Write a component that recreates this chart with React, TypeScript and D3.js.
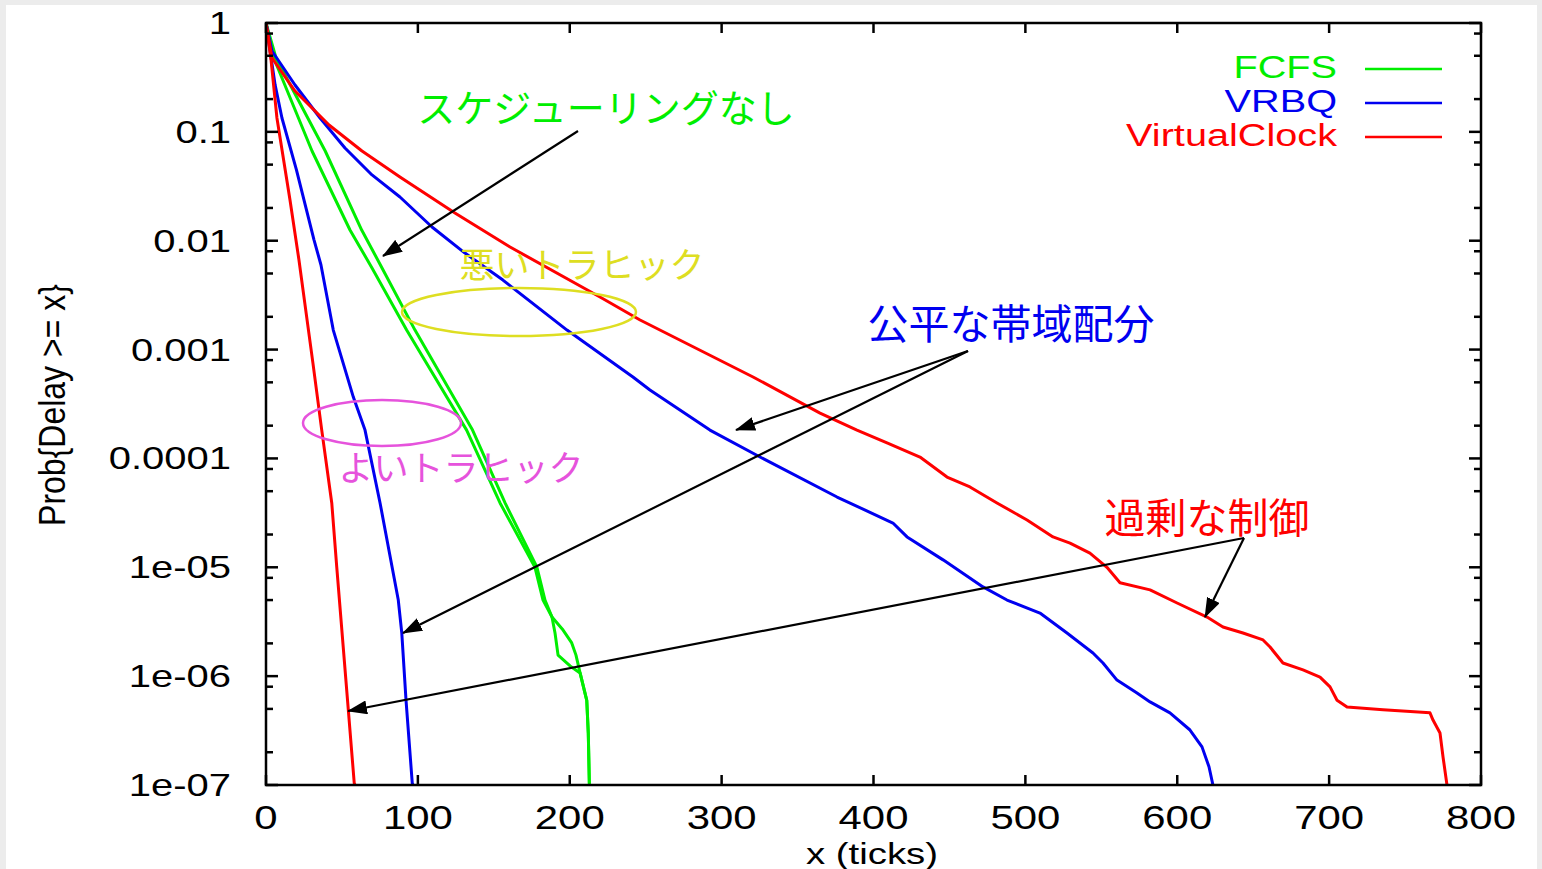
import React from "react";
import * as d3 from "d3";

// Delay distribution tails: [ticks, Prob{Delay >= x}]
const fcfsBad: [number, number][] = [
  [0, 1], [5.1, 0.477], [30.3, 0.0667], [55.3, 0.01254], [69.8, 0.00562], [92.6, 0.00151],
  [132.1, 1.82e-4], [154.1, 3.9e-5], [177.1, 1.0e-5], [182.4, 5.0e-6], [188.3, 3.49e-6],
  [190.3, 2.49e-6], [192.3, 1.56e-6], [200.2, 1.24e-6], [206.8, 1.07e-6], [211.2, 6.0e-7],
  [212.2, 3.0e-7], [212.9, 1.04e-7], [213.0, 1e-7],
];
const fcfsGood: [number, number][] = [
  [0, 1], [6.6, 0.477], [39.0, 0.0667], [63.0, 0.01254], [76.4, 0.00562], [98.1, 0.00151],
  [136.0, 1.82e-4], [157.4, 3.9e-5], [178.4, 1.0e-5], [183.7, 5.0e-6], [188.3, 3.49e-6],
  [195.6, 2.65e-6], [201.3, 2.02e-6], [204.1, 1.56e-6], [206.8, 1.07e-6], [211.2, 6.0e-7],
  [212.2, 3.0e-7], [212.9, 1.04e-7], [213.0, 1e-7],
];
const vrbqBad: [number, number][] = [
  [0, 1], [3.95, 0.553], [19.1, 0.2695], [35.6, 0.134], [52.0, 0.0711], [69.8, 0.0402],
  [88.2, 0.0252], [109.3, 0.01337], [131.0, 0.0077], [156.0, 0.00435], [198.2, 0.00151],
  [241.6, 5.6e-4], [252.8, 4.25e-4], [292.3, 1.82e-4], [325.3, 1.03e-4], [376.0, 4.42e-5],
  [412.8, 2.55e-5], [422.1, 1.9e-5], [445.8, 1.17e-5], [472.1, 6.6e-6], [487.9, 5.0e-6],
  [509.6, 3.8e-6], [527.4, 2.49e-6], [544.5, 1.63e-6], [551.1, 1.32e-6], [560.3, 9.2e-7],
  [573.5, 7.0e-7], [582.1, 5.8e-7], [595.2, 4.6e-7], [608.4, 3.2e-7], [616.3, 2.24e-7],
  [620.9, 1.47e-7], [623.5, 1e-7],
];
const vrbqGood: [number, number][] = [
  [0, 1], [2.6, 0.565], [6.0, 0.27], [10.5, 0.134], [20.0, 0.045], [31.6, 0.0102],
  [36.2, 0.00598], [44.3, 0.00151], [57.5, 3.66e-4], [65.2, 1.82e-4], [75.1, 3.9e-5],
  [87.1, 5.0e-6], [89.4, 2.5e-6], [92.2, 6.0e-7], [96.3, 1.04e-7], [96.8, 1e-7],
];
const vcBad: [number, number][] = [
  [0, 1], [3.95, 0.477], [19.1, 0.237], [41.5, 0.1156], [63.2, 0.0667], [88.2, 0.0385],
  [124.4, 0.018], [160.7, 0.00875], [219.9, 0.00304], [246.3, 0.00187], [320.7, 5.6e-4],
  [364.8, 2.61e-4], [389.1, 1.82e-4], [408.9, 1.39e-4], [430.6, 1.03e-4], [448.4, 6.75e-5],
  [463.5, 5.47e-5], [481.3, 3.9e-5], [501.1, 2.72e-5], [518.2, 1.9e-5], [529.4, 1.67e-5],
  [542.5, 1.35e-5], [553.7, 1.0e-5], [562.3, 7.2e-6], [582.1, 6.2e-6], [599.9, 4.7e-6],
  [619.6, 3.49e-6], [630.1, 2.83e-6], [643.3, 2.49e-6], [656.5, 2.15e-6], [661.1, 1.85e-6],
  [669.6, 1.32e-6], [682.8, 1.14e-6], [694.0, 9.8e-7], [700.6, 7.96e-7], [705.2, 6.0e-7],
  [711.8, 5.2e-7], [735.5, 4.9e-7], [766.4, 4.6e-7], [768.4, 3.95e-7], [773.0, 3.0e-7],
  [775.0, 1.81e-7], [777.6, 1e-7],
];
const vcGood: [number, number][] = [
  [0, 1], [3.3, 0.46], [7.2, 0.134], [15.8, 0.0237], [21.7, 0.00665], [30.9, 7.5e-4],
  [36.7, 1.82e-4], [43.3, 3.9e-5], [46.6, 1.0e-5], [54.2, 4.9e-7], [58.1, 1.04e-7], [58.6, 1e-7],
];

const xTicks = [0, 100, 200, 300, 400, 500, 600, 700, 800];
const yTicks = [1, 0.1, 0.01, 0.001, 0.0001, 1e-5, 1e-6, 1e-7];
const yTickLabels = ["1", "0.1", "0.01", "0.001", "0.0001", "1e-05", "1e-06", "1e-07"];
const minorFactors = [0.8, 0.5, 0.2];

const GREEN = "#00ee00";
const BLUE = "#0000f0";
const RED = "#ff0000";
const YELLOW = "#dede22";
const MAGENTA = "#e653dc";

const series = [
  { name: "FCFS", color: GREEN, curves: [fcfsBad, fcfsGood] },
  { name: "VRBQ", color: BLUE, curves: [vrbqBad, vrbqGood] },
  { name: "VirtualClock", color: RED, curves: [vcBad, vcGood] },
];

const LEFT = 266, RIGHT = 1481, TOP = 23, BOTTOM = 785;
const LATIN = "'Liberation Sans', Arial, sans-serif";
const CJK = "'Noto Sans CJK JP', 'Noto Sans', sans-serif";

export default function App() {
  const x = d3.scaleLinear().domain([0, 800]).range([LEFT, RIGHT]);
  const y = d3.scaleLog().domain([1e-7, 1]).range([BOTTOM, TOP]);
  const line = d3
    .line<[number, number]>()
    .x((d) => x(d[0]))
    .y((d) => y(d[1]));

  const minorTicks: number[] = [];
  for (let k = 0; k > -7; k--) {
    minorFactors.forEach((f) => minorTicks.push(Math.pow(10, k) * f));
  }

  const arrows = [
    { from: [578, 131], to: [383, 256] },
    { from: [968, 351], to: [736, 430] },
    { from: [968, 351], to: [403, 633] },
    { from: [1244, 538], to: [348, 711] },
    { from: [1244, 538], to: [1205, 617] },
  ];

  const annotations = [
    { text: "スケジューリングなし", x: 606, y: 105, size: 38, color: GREEN },
    { text: "悪いトラヒック", x: 582, y: 262, size: 35, color: YELLOW },
    { text: "公平な帯域配分", x: 1011, y: 321, size: 41, color: BLUE },
    { text: "よいトラヒック", x: 461, y: 465, size: 35, color: MAGENTA },
    { text: "過剰な制御", x: 1207, y: 515, size: 41, color: RED },
  ];

  return (
    <svg
      width={1542}
      height={869}
      style={{ position: "absolute", left: 0, top: 0, background: "#ffffff" }}
    >
      <defs>
        <clipPath id="plot-area">
          <rect x={LEFT} y={TOP} width={RIGHT - LEFT} height={BOTTOM - TOP} />
        </clipPath>
        <marker
          id="arrow-head"
          markerUnits="userSpaceOnUse"
          markerWidth={20}
          markerHeight={14}
          refX={19}
          refY={7}
          orient="auto"
        >
          <path d="M0,0 L20,7 L0,14 z" fill="#000" />
        </marker>
      </defs>

      {/* page edges */}
      <rect x={0} y={0} width={1542} height={5} fill="#ececec" />
      <rect x={0} y={0} width={6} height={869} fill="#ececec" />
      <rect x={1537} y={0} width={5} height={869} fill="#ececec" />

      {/* curves */}
      <g clipPath="url(#plot-area)" fill="none" strokeWidth={3} strokeLinejoin="round">
        {series.map((s) =>
          s.curves.map((c, i) => (
            <path key={s.name + i} d={line(c) || ""} stroke={s.color} />
          ))
        )}
      </g>

      {/* frame and ticks */}
      <rect
        x={LEFT}
        y={TOP}
        width={RIGHT - LEFT}
        height={BOTTOM - TOP}
        fill="none"
        stroke="#000"
        strokeWidth={2.5}
      />
      <g stroke="#000" strokeWidth={2.5}>
        {xTicks.map((t) => (
          <g key={"xt" + t}>
            <line x1={x(t)} x2={x(t)} y1={BOTTOM} y2={BOTTOM - 10} />
            <line x1={x(t)} x2={x(t)} y1={TOP} y2={TOP + 10} />
          </g>
        ))}
        {yTicks.map((v) => (
          <g key={"yt" + v}>
            <line x1={LEFT} x2={LEFT + 12} y1={y(v)} y2={y(v)} />
            <line x1={RIGHT} x2={RIGHT - 12} y1={y(v)} y2={y(v)} />
          </g>
        ))}
        {minorTicks.map((v) => (
          <g key={"ym" + v}>
            <line x1={LEFT} x2={LEFT + 7} y1={y(v)} y2={y(v)} />
            <line x1={RIGHT} x2={RIGHT - 7} y1={y(v)} y2={y(v)} />
          </g>
        ))}
      </g>

      {/* tick labels */}
      <g fontFamily={LATIN} fill="#000">
        {yTicks.map((v, i) => (
          <text
            key={"yl" + v}
            transform={`translate(231,${y(v)}) scale(1.25,1)`}
            textAnchor="end"
            dominantBaseline="central"
            fontSize={32}
          >
            {yTickLabels[i]}
          </text>
        ))}
        {xTicks.map((t) => (
          <text
            key={"xl" + t}
            transform={`translate(${x(t)},829) scale(1.27,1)`}
            textAnchor="middle"
            fontSize={33}
          >
            {t}
          </text>
        ))}
        <text
          transform="translate(872,864) scale(1.28,1)"
          textAnchor="middle"
          fontSize={30}
        >
          x (ticks)
        </text>
        <text
          transform="translate(52,405) scale(1.15,1) rotate(-90)"
          textAnchor="middle"
          dominantBaseline="central"
          fontSize={32}
        >
          {"Prob{Delay >= x}"}
        </text>
      </g>

      {/* legend */}
      <g fontFamily={LATIN}>
        {series.map((s, i) => (
          <g key={"lg" + s.name}>
            <text
              transform={`translate(1337,${68 + i * 34}) scale(1.28,1)`}
              textAnchor="end"
              dominantBaseline="central"
              fontSize={31}
              fill={s.color}
            >
              {s.name}
            </text>
            <line
              x1={1365}
              x2={1442}
              y1={69 + i * 34}
              y2={69 + i * 34}
              stroke={s.color}
              strokeWidth={2.5}
            />
          </g>
        ))}
      </g>

      {/* highlighted regions */}
      <ellipse cx={519} cy={312} rx={117} ry={24} fill="none" stroke={YELLOW} strokeWidth={2.5} />
      <ellipse cx={382} cy={423} rx={79} ry={23} fill="none" stroke={MAGENTA} strokeWidth={2.5} />

      {/* arrows */}
      <g stroke="#000" strokeWidth={2.2}>
        {arrows.map((a, i) => (
          <line
            key={"ar" + i}
            x1={a.from[0]}
            y1={a.from[1]}
            x2={a.to[0]}
            y2={a.to[1]}
            markerEnd="url(#arrow-head)"
          />
        ))}
      </g>

      {/* annotations */}
      <g fontFamily={CJK}>
        {annotations.map((a) => (
          <text
            key={a.text}
            x={a.x}
            y={a.y}
            textAnchor="middle"
            dominantBaseline="central"
            fontSize={a.size}
            fill={a.color}
          >
            {a.text}
          </text>
        ))}
      </g>
    </svg>
  );
}
